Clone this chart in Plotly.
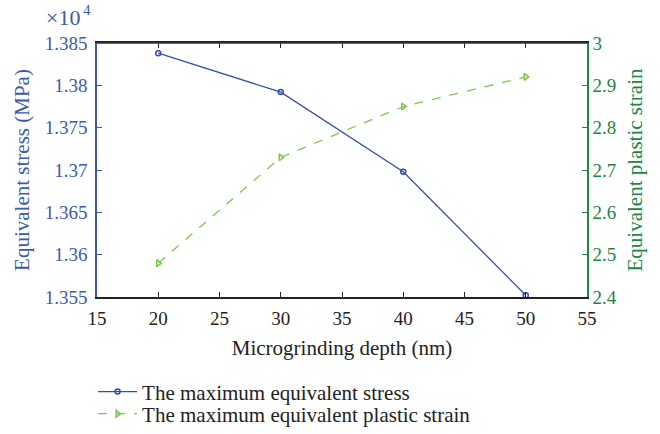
import plotly.graph_objects as go

depth = [20, 30, 40, 50]
stress = [13838, 13792, 13698, 13552]          # MPa
strain = [2.48, 2.73, 2.85, 2.92]
x_ticks = [15, 20, 25, 30, 35, 40, 45, 50, 55]
stress_ticks = [13550, 13600, 13650, 13700, 13750, 13800, 13850]
stress_tick_text = ["1.355", "1.36", "1.365", "1.37", "1.375", "1.38", "1.385"]
strain_ticks = [2.4, 2.5, 2.6, 2.7, 2.8, 2.9, 3.0]
strain_tick_text = ["2.4", "2.5", "2.6", "2.7", "2.8", "2.9", "3"]

BLUE = "#3550a8"
BLUE_TXT = "#3d5aa8"
GREEN_LINE = "#7cc84e"
GREEN_TXT = "#1f8445"
FONT = "Liberation Serif"

fig = go.Figure()
fig.add_trace(go.Scatter(
    x=depth, y=stress, name="The maximum equivalent stress",
    mode="lines+markers",
    line=dict(color=BLUE, width=1.3),
    marker=dict(symbol="circle-open", size=5, color=BLUE, line=dict(width=1.5)),
    yaxis="y", legend="legend"))
fig.add_trace(go.Scatter(
    x=depth, y=strain, name="The maximum equivalent plastic strain",
    mode="lines+markers",
    line=dict(color=GREEN_LINE, width=1.3, dash="dash"),
    marker=dict(symbol="triangle-right-open", size=6, color=GREEN_LINE, line=dict(width=1.5)),
    yaxis="y2", legend="legend2"))

leg_common = dict(x=-0.008, xanchor="left", yanchor="middle", yref="container",
                  font=dict(family=FONT, size=21, color="#222"),
                  bgcolor="rgba(0,0,0,0)", itemwidth=39)

fig.update_layout(
    width=660, height=434,
    margin=dict(l=97, r=73, t=43, b=137),
    paper_bgcolor="white", plot_bgcolor="white",
    font=dict(family=FONT, size=19, color="#222"),
    showlegend=True,
    legend=dict(y=0.097, **leg_common),
    legend2=dict(y=0.046, **leg_common),
    xaxis=dict(range=[15, 55], tickvals=x_ticks, ticks="inside", ticklen=5,
               tickcolor="#222", showline=True, linecolor="#222", linewidth=1.5,
               mirror="ticks", showgrid=False, zeroline=False, ticklabelstandoff=3,
               tickfont=dict(family=FONT, size=19, color="#222"),
               title=dict(text="Microgrinding depth (nm)", standoff=13,
                          font=dict(family=FONT, size=21, color="#222"))),
    yaxis=dict(range=[13550, 13850], tickvals=stress_ticks, ticktext=stress_tick_text,
               ticks="inside", ticklen=5, tickcolor=BLUE_TXT,
               showline=True, linecolor=BLUE_TXT, linewidth=1.5,
               showgrid=False, zeroline=False, ticklabelstandoff=4,
               tickfont=dict(family=FONT, size=19, color=BLUE_TXT),
               title=dict(text="Equivalent stress (MPa)", standoff=9,
                          font=dict(family=FONT, size=21, color=BLUE_TXT))),
    yaxis2=dict(range=[2.4, 3.0], tickvals=strain_ticks, ticktext=strain_tick_text,
                overlaying="y", side="right",
                ticks="inside", ticklen=5, tickcolor=GREEN_TXT,
                showline=True, linecolor=GREEN_TXT, linewidth=1.5,
                showgrid=False, zeroline=False,
                tickfont=dict(family=FONT, size=19, color=GREEN_TXT),
                title=dict(text="Equivalent plastic strain", standoff=12,
                           font=dict(family=FONT, size=21, color=GREEN_TXT))),
    annotations=[
        dict(text="×10", x=0, y=1, xref="paper", yref="paper",
             xanchor="right", yanchor="bottom", xshift=-15, yshift=11,
             showarrow=False, font=dict(family=FONT, size=22, color=BLUE_TXT)),
        dict(text="4", x=0, y=1, xref="paper", yref="paper",
             xanchor="left", yanchor="bottom", xshift=-16, yshift=23,
             showarrow=False, font=dict(family=FONT, size=15, color=BLUE_TXT)),
    ],
    shapes=[dict(type="line", xref="paper", yref="paper", x0=0, x1=1, y0=1, y1=1,
                 line=dict(color="#333", width=1.5))],
)

fig.write_html("out.html", config={"displayModeBar": False},
               post_script="document.body.style.margin='0px';")
